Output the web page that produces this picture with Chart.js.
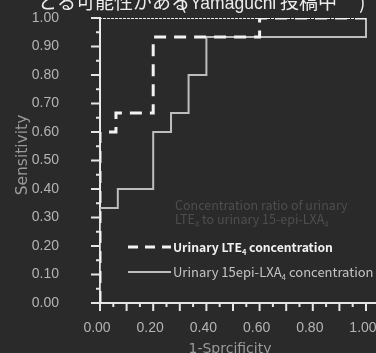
<!DOCTYPE html>
<html lang="ja">
<head>
<meta charset="UTF-8">
<script src="https://cdn.jsdelivr.net/npm/chart.js"></script>
<style>
  html, body { margin: 0; padding: 0; background: #2a2a2a; overflow: hidden; }
  #wrap { width: 376px; height: 353px; }
</style>
</head>
<body>
<div id="wrap"><canvas id="roc" width="376" height="353"></canvas></div>
<script>
// ROC curves: 1 - specificity (x) vs sensitivity (y), corner points of each step
const lteFpr = [0, 0, 0.06, 0.2, 0.6, 1.0];
const lteTpr = [0, 0.6, 0.667, 0.933, 1.0, 1.0];

const lxaFpr = [0, 0, 0.067, 0.2, 0.267, 0.333, 0.4, 1.0];
const lxaTpr = [0, 0.333, 0.4, 0.6, 0.667, 0.8, 0.933, 1.0];

const ratioFpr = [0, 0, 1.0];
const ratioTpr = [0, 1.0, 1.0];

const xTickLabels = ['0.00', '0.20', '0.40', '0.60', '0.80', '1.00'];
const yTickLabels = ['0.00', '0.10', '0.20', '0.30', '0.40', '0.50', '0.60', '0.70', '0.80', '0.90', '1.00'];

const toPoints = (xs, ys) => xs.map((x, i) => ({ x: x, y: ys[i] }));
const fmt = v => v.toFixed(2);
// tick marks every 0.05, labelled every 0.1 / 0.2
const minorSteps = Array.from({ length: 21 }, (_, i) => ({ value: i / 20 }));

// tick marks, axis lines and all the annotation text
const decorations = {
  id: 'decorations',
  beforeDatasetsDraw(chart) {
    const ctx = chart.ctx;
    const xs = chart.scales.x, ys = chart.scales.y;
    const x0 = xs.getPixelForValue(0), y0 = ys.getPixelForValue(0);
    ctx.save();
    ctx.strokeStyle = '#e6e6e6';
    ctx.lineWidth = 2;
    ctx.beginPath();
    ctx.moveTo(x0 - 8, y0); ctx.lineTo(chart.width, y0);
    ctx.moveTo(x0, y0); ctx.lineTo(x0, ys.getPixelForValue(1) - 1);
    ys.ticks.forEach(t => {
      const len = yTickLabels.includes(fmt(t.value)) ? 9 : 4;
      const py = ys.getPixelForValue(t.value);
      ctx.moveTo(x0 - len, py); ctx.lineTo(x0, py);
    });
    xs.ticks.forEach(t => {
      const len = Math.round(t.value * 100) % 10 === 0 ? 8 : 4;
      const px = xs.getPixelForValue(t.value);
      ctx.moveTo(px, y0); ctx.lineTo(px, y0 + len);
    });
    ctx.stroke();
    ctx.restore();
  },
  afterDraw(chart) {
    const ctx = chart.ctx;
    ctx.save();

    // heading, only its lower half shows
    ctx.fillStyle = '#ececec';
    ctx.textBaseline = 'alphabetic';
    ctx.font = '19px "Noto Sans CJK JP"';
    ctx.fillText('とる可能性がある', 38, 9);
    ctx.fillText('(', 180, 9);
    ctx.fillText('投稿中', 280, 9);
    ctx.fillText(')', 359, 9);
    ctx.font = '17.5px "Liberation Sans"';
    ctx.fillText('Yamaguchi', 190, 9);

    // axis titles
    ctx.fillStyle = '#9a9a9a';
    ctx.textAlign = 'center';
    ctx.textBaseline = 'middle';
    ctx.font = '14px "DejaVu Sans"';
    ctx.fillText('1-Sprcificity', 230, 349);
    ctx.translate(23, 155);
    ctx.rotate(-Math.PI / 2);
    ctx.font = '15.5px "DejaVu Sans"';
    ctx.fillText('Sensitivity', 0, 0);
    ctx.setTransform(1, 0, 0, 1, 0, 0);

    // legend
    const rich = (parts, x, y, font, size) => {
      ctx.textAlign = 'left';
      ctx.textBaseline = 'alphabetic';
      parts.forEach(p => {
        const sub = p.startsWith('_');
        const txt = sub ? p.slice(1) : p;
        ctx.font = font.replace('SIZE', (sub ? size * 0.62 : size) + 'px');
        ctx.fillText(txt, x, sub ? y + 3 : y);
        x += ctx.measureText(txt).width;
      });
    };
    ctx.fillStyle = '#4e4e4e';
    rich(['Concentration ratio of urinary'], 175, 210, 'SIZE "Noto Sans CJK JP"', 12.5);
    rich(['LTE', '_4', ' to urinary 15-epi-LXA', '_4'], 175, 224, 'SIZE "Noto Sans CJK JP"', 12.5);

    ctx.fillStyle = '#f2f2f2';
    rich(['Urinary LTE', '_4', ' concentration'], 173, 252, 'bold SIZE "Noto Sans CJK JP"', 12.2);
    ctx.fillStyle = '#c4c4c4';
    rich(['Urinary 15epi-LXA', '_4', ' concentration'], 173, 277, 'SIZE "Noto Sans CJK JP"', 13);

    ctx.lineWidth = 3;
    ctx.strokeStyle = '#f2f2f2';
    ctx.setLineDash([10, 7]);
    ctx.beginPath(); ctx.moveTo(128, 247); ctx.lineTo(171, 247); ctx.stroke();
    ctx.setLineDash([]);
    ctx.lineWidth = 2;
    ctx.strokeStyle = '#bdbdbd';
    ctx.beginPath(); ctx.moveTo(128, 272); ctx.lineTo(171, 272); ctx.stroke();
    ctx.restore();
  }
};

new Chart(document.getElementById('roc'), {
  type: 'line',
  data: {
    datasets: [
      {
        label: 'Urinary LTE4 concentration',
        data: toPoints(lteFpr, lteTpr),
        borderColor: '#f2f2f2',
        borderWidth: 3,
        borderDash: [12, 8],
        stepped: 'before'
      },
      {
        label: 'Urinary 15epi-LXA4 concentration',
        data: toPoints(lxaFpr, lxaTpr),
        borderColor: '#bdbdbd',
        borderWidth: 2,
        stepped: 'before'
      },
      {
        label: 'Concentration ratio of urinary LTE4 to urinary 15-epi-LXA4',
        data: toPoints(ratioFpr, ratioTpr),
        borderColor: '#ececec',
        borderWidth: 2,
        borderDash: [3, 1],
        stepped: 'before'
      }
    ]
  },
  options: {
    responsive: false,
    animation: false,
    devicePixelRatio: 1,
    layout: { padding: { top: 18, right: 0, left: 0, bottom: 0 } },
    elements: { point: { radius: 0 }, line: { tension: 0 } },
    plugins: { legend: { display: false }, tooltip: { enabled: false } },
    scales: {
      x: {
        type: 'linear',
        min: 0,
        max: 1.0376,
        grid: { display: false },
        border: { display: false },
        ticks: {
          autoSkip: false,
          maxRotation: 0,
          padding: 9,
          labelOffset: -3,
          color: '#b4b4b4',
          font: { family: 'Liberation Sans', size: 14 },
          callback: v => xTickLabels.includes(fmt(v)) ? fmt(v) : ''
        },
        afterBuildTicks: s => { s.ticks = minorSteps.map(t => ({ value: t.value })); },
        afterFit: s => { s.height = 50; s.paddingLeft = 0; s.paddingRight = 0; }
      },
      y: {
        type: 'linear',
        min: 0,
        max: 1,
        grid: { display: false },
        border: { display: false },
        ticks: {
          autoSkip: false,
          padding: 33,
          color: '#b4b4b4',
          font: { family: 'Liberation Sans', size: 14 },
          callback: v => yTickLabels.includes(fmt(v)) ? fmt(v) : ''
        },
        afterBuildTicks: s => { s.ticks = minorSteps.map(t => ({ value: t.value })); },
        afterFit: s => { s.width = 100; s.paddingTop = 0; s.paddingBottom = 0; }
      }
    }
  },
  plugins: [decorations]
});
</script>
</body>
</html>
